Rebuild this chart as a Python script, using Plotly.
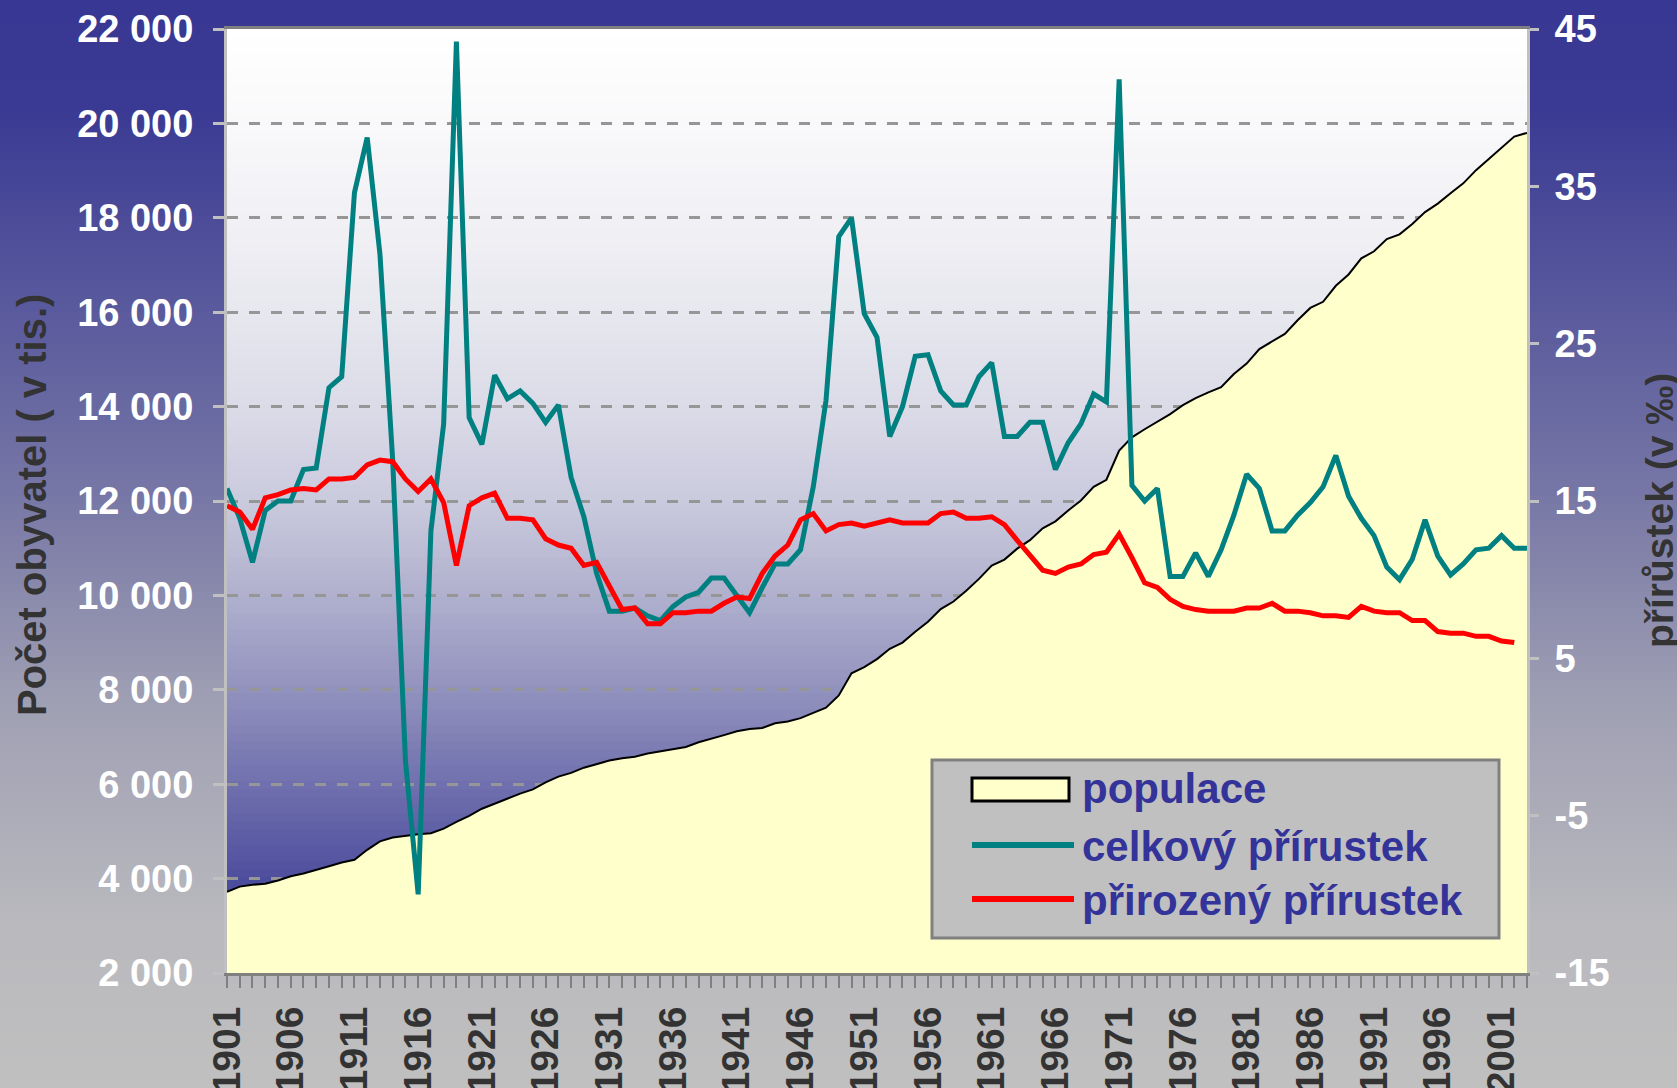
import plotly.graph_objects as go

# ---------------- data ----------------
roky = list(range(1901, 2004))

populace = [
    3720, 3830, 3870, 3890, 3960, 4050, 4110, 4180, 4260, 4340,   # 1901-1910
    4400, 4610, 4790, 4870, 4910, 4940, 4960, 5060, 5200, 5330,   # 1911-1920
    5480, 5590, 5690, 5800, 5890, 6040, 6160, 6240, 6350, 6430,   # 1921-1930
    6500, 6550, 6580, 6650, 6700, 6740, 6790, 6890, 6960, 7040,   # 1931-1940
    7120, 7170, 7190, 7290, 7330, 7400, 7510, 7620, 7880, 8350,   # 1941-1950
    8480, 8650, 8870, 9000, 9230, 9440, 9710, 9870, 10100, 10350, # 1951-1960
    10630, 10760, 10990, 11170, 11420, 11570, 11800, 12010, 12300, 12450,  # 1961-1970
    13070, 13350, 13520, 13680, 13840, 14030, 14180, 14300, 14410, 14690,  # 1971-1980
    14910, 15220, 15380, 15540, 15830, 16090, 16220, 16560, 16800, 17140,  # 1981-1990
    17290, 17550, 17650, 17870, 18120, 18300, 18520, 18730, 19010, 19250,  # 1991-2000
    19480, 19720, 19800,                                                   # 2001-2003
]

celkovy_prirustek = [
    15.8, 13.9, 11.1, 14.4, 15.0, 15.0, 17.0, 17.1, 22.2, 22.9,   # 1901-1910
    34.6, 38.1, 30.7, 17.6, -1.5, -10.0, 13.1, 19.9, 44.2, 20.3,  # 1911-1920
    18.6, 23.0, 21.5, 22.0, 21.2, 20.0, 21.1, 16.5, 14.0, 10.4,   # 1921-1930
    8.0, 8.0, 8.2, 7.7, 7.4, 8.3, 8.9, 9.2, 10.1, 10.1,           # 1931-1940
    9.0, 7.9, 9.5, 11.0, 11.0, 11.9, 15.9, 21.4, 31.8, 33.0,      # 1941-1950
    26.9, 25.4, 19.1, 21.0, 24.2, 24.3, 22.0, 21.1, 21.1, 22.9,   # 1951-1960
    23.8, 19.1, 19.1, 20.0, 20.0, 17.0, 18.7, 19.9, 21.8, 21.3,   # 1961-1970
    41.8, 16.0, 15.0, 15.8, 10.2, 10.2, 11.7, 10.2, 11.9, 14.1,   # 1971-1980
    16.7, 15.8, 13.1, 13.1, 14.1, 14.9, 15.9, 17.9, 15.3, 13.9,   # 1981-1990
    12.8, 10.8, 10.0, 11.3, 13.8, 11.5, 10.3, 11.0, 11.9, 12.0,   # 1991-2000
    12.8, 12.0, 12.0,                                             # 2001-2003
]

prirozeny_prirustek = [
    14.7, 14.3, 13.2, 15.2, 15.4, 15.7, 15.8, 15.7, 16.4, 16.4,   # 1901-1910
    16.5, 17.3, 17.6, 17.5, 16.4, 15.6, 16.4, 14.9, 10.9, 14.7,   # 1911-1920
    15.2, 15.5, 13.9, 13.9, 13.8, 12.6, 12.2, 12.0, 10.9, 11.1,   # 1921-1930
    9.6, 8.1, 8.2, 7.2, 7.2, 7.9, 7.9, 8.0, 8.0, 8.5,             # 1931-1940
    8.9, 8.8, 10.4, 11.5, 12.2, 13.8, 14.2, 13.1, 13.5, 13.6,     # 1941-1950
    13.4, 13.6, 13.8, 13.6, 13.6, 13.6, 14.2, 14.3, 13.9, 13.9,   # 1951-1960
    14.0, 13.5, 12.5, 11.5, 10.6, 10.4, 10.8, 11.0, 11.6, 11.75,  # 1961-1970
    12.9, 11.4, 9.8, 9.5, 8.75, 8.3, 8.1, 8.0, 8.0, 8.0,          # 1971-1980
    8.2, 8.2, 8.5, 8.0, 8.0, 7.9, 7.7, 7.7, 7.6, 8.3,             # 1981-1990
    8.0, 7.9, 7.9, 7.4, 7.4, 6.7, 6.6, 6.6, 6.4, 6.4,             # 1991-2000
    6.1, 6.0,                                                     # 2001-2002
]
roky_prirozeny = roky[:len(prirozeny_prirustek)]

y_left_ticks = [2000, 4000, 6000, 8000, 10000, 12000, 14000, 16000, 18000, 20000, 22000]
y_left_text = ["2 000", "4 000", "6 000", "8 000", "10 000", "12 000",
               "14 000", "16 000", "18 000", "20 000", "22 000"]
y_right_ticks = [-15, -5, 5, 15, 25, 35, 45]
y_right_text = ["-15", "-5", "5", "15", "25", "35", "45"]
x_tick_text = [str(r) if (r - 1901) % 5 == 0 else "" for r in roky]

series_names = ["populace", "celkový přírustek", "přirozený přírustek"]
left_title = "Počet obyvatel ( v tis.)"
right_title = "přírůstek (v ‰)"

# ---------------- layout geometry ----------------
W, H = 1677, 1088
L, R, T, B = 227, 150, 29, 115
PW, PH = W - L - R, H - T - B
FONT = "Liberation Sans, Arial, Helvetica, sans-serif"


def px(x):
    return (x - L) / PW


def py(y):
    return (H - B - y) / PH


def interp(stops, f):
    for (f0, c0), (f1, c1) in zip(stops[:-1], stops[1:]):
        if f0 <= f <= f1:
            t = 0 if f1 == f0 else (f - f0) / (f1 - f0)
            c = [round(a + (b - a) * t) for a, b in zip(c0, c1)]
            return "rgb(%d,%d,%d)" % tuple(c)
    return "rgb(%d,%d,%d)" % stops[-1][1]


outer_stops = [(0.0, (56, 56, 148)), (0.1, (58, 58, 148)), (0.45, (118, 118, 166)),
               (0.65, (160, 160, 180)), (0.85, (185, 185, 190)), (1.0, (192, 192, 192))]
inner_stops = [(0.0, (255, 255, 255)), (0.1, (249, 249, 251)), (0.2, (241, 241, 245)),
               (0.3, (231, 231, 239)), (0.4, (219, 219, 232)), (0.5, (202, 202, 222)),
               (0.6, (176, 176, 206)), (0.7, (146, 146, 190)), (0.8, (112, 112, 174)),
               (0.9, (78, 78, 158)), (1.0, (56, 56, 148))]

shapes = []
N1 = 136
for i in range(N1):
    y_top = i * H / N1
    y_bot = min(H, (i + 1) * H / N1 + 1)
    shapes.append(dict(type="rect", xref="paper", yref="paper", layer="below",
                       x0=px(0), x1=px(W), y0=py(y_bot), y1=py(y_top),
                       fillcolor=interp(outer_stops, (i + 0.5) / N1), line=dict(width=0)))
N2 = 118
for i in range(N2):
    y_top = T + i * PH / N2
    y_bot = min(T + PH, T + (i + 1) * PH / N2 + 1)
    shapes.append(dict(type="rect", xref="paper", yref="paper", layer="below",
                       x0=0, x1=1, y0=py(y_bot), y1=py(y_top),
                       fillcolor=interp(inner_stops, (i + 0.5) / N2), line=dict(width=0)))

# custom legend box
shapes.append(dict(type="rect", xref="paper", yref="paper", layer="above",
                   x0=px(932), x1=px(1499), y0=py(938), y1=py(760),
                   fillcolor="#c0c0c0", line=dict(color="#808080", width=3)))
shapes.append(dict(type="rect", xref="paper", yref="paper", layer="above",
                   x0=px(972), x1=px(1069), y0=py(801), y1=py(778),
                   fillcolor="#ffffcc", line=dict(color="black", width=3)))
shapes.append(dict(type="line", xref="paper", yref="paper", layer="above",
                   x0=px(972), x1=px(1074), y0=py(845), y1=py(845),
                   line=dict(color="#008080", width=6)))
shapes.append(dict(type="line", xref="paper", yref="paper", layer="above",
                   x0=px(972), x1=px(1074), y0=py(899), y1=py(899),
                   line=dict(color="#ff0000", width=6)))

annotations = [
    dict(text=left_title, x=px(32), y=py(505), xref="paper", yref="paper", showarrow=False,
         textangle=-90, xanchor="center", yanchor="middle",
         font=dict(family=FONT, size=40, color="#333333", weight="bold")),
    dict(text=right_title, x=px(1659), y=py(511), xref="paper", yref="paper", showarrow=False,
         textangle=-90, xanchor="center", yanchor="middle",
         font=dict(family=FONT, size=39, color="#333333", weight="bold")),
]
for name, yc in zip(series_names, [788, 846, 900]):
    annotations.append(dict(text=name, x=px(1080), y=py(yc), xref="paper", yref="paper",
                            showarrow=False, xanchor="left", yanchor="middle",
                            font=dict(family=FONT, size=42, color="#333399", weight="bold")))

fig = go.Figure()
fig.add_trace(go.Scatter(x=roky, y=populace, name=series_names[0], mode="lines",
                         fill="tozeroy", fillcolor="#ffffcc",
                         line=dict(color="black", width=2), yaxis="y"))
fig.add_trace(go.Scatter(x=roky, y=celkovy_prirustek, name=series_names[1], mode="lines",
                         line=dict(color="#008080", width=5), yaxis="y2"))
fig.add_trace(go.Scatter(x=roky_prirozeny, y=prirozeny_prirustek, name=series_names[2],
                         mode="lines", line=dict(color="#ff0000", width=5), yaxis="y2"))

fig.update_layout(
    template="none",
    width=W, height=H,
    margin=dict(l=L, r=R, t=T, b=B, pad=0),
    paper_bgcolor="#c0c0c0",
    plot_bgcolor="rgba(0,0,0,0)",
    showlegend=False,
    shapes=shapes,
    annotations=annotations,
    xaxis=dict(range=[1901, 2003], tickmode="array", tickvals=roky, ticktext=x_tick_text,
               tickangle=-90, ticks="outside", ticklen=12, tickwidth=2, tickcolor="#808080",
               showline=True, linecolor="#808080", linewidth=3, mirror=True,
               showgrid=False, zeroline=False, automargin=False, ticklabelstandoff=3,
               tickfont=dict(family=FONT, size=39, color="#333333", weight="bold")),
    yaxis=dict(range=[2000, 22000], tickmode="array", tickvals=y_left_ticks, ticktext=y_left_text,
               ticks="outside", ticklen=11, tickwidth=3, tickcolor="#c0c0c0",
               showline=True, linecolor="#c0c0c0", linewidth=3,
               showgrid=True, gridcolor="#969696", gridwidth=3, griddash="11px,11px",
               zeroline=False, automargin=False, ticklabelstandoff=12,
               tickfont=dict(family=FONT, size=38, color="white", weight="bold")),
    yaxis2=dict(range=[-15, 45], tickmode="array", tickvals=y_right_ticks, ticktext=y_right_text,
                overlaying="y", side="right", ticks="outside", ticklen=9, tickwidth=3,
                tickcolor="#c0c0c0", showline=True, linecolor="#c0c0c0", linewidth=3,
                showgrid=False, zeroline=False, automargin=False, ticklabelstandoff=8,
                tickfont=dict(family=FONT, size=38, color="white", weight="bold")),
)

fig.write_html("out.html", config={"displayModeBar": False},
               post_script="document.body.style.margin='0px';document.body.style.overflow='hidden';")
